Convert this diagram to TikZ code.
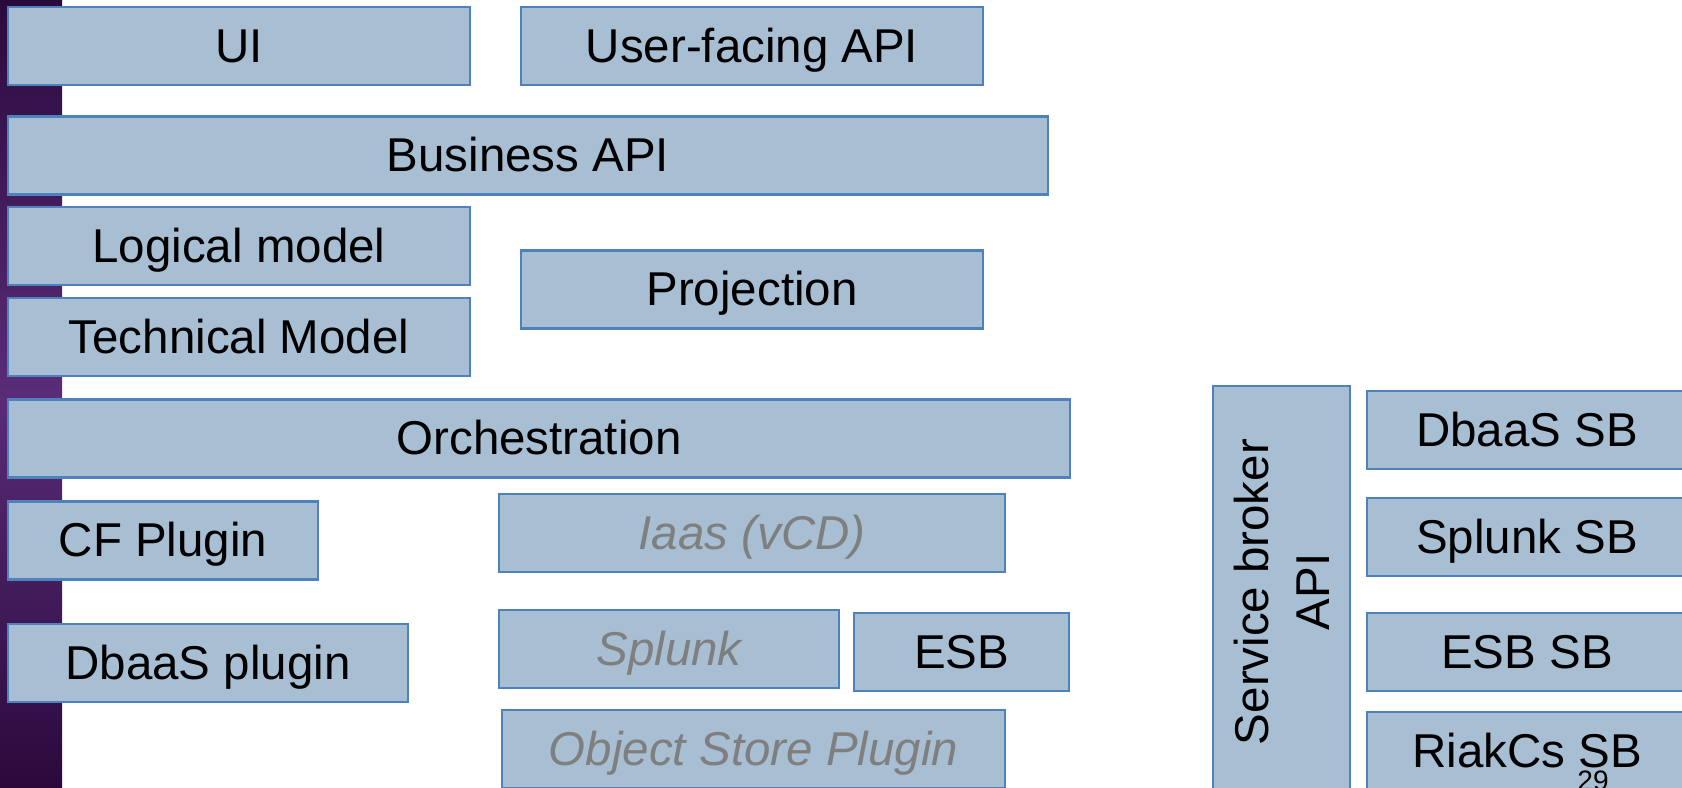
\documentclass[tikz,border=0pt]{standalone}
\usepackage{fontspec}
\setmainfont{Liberation Sans}
\definecolor{boxfill}{HTML}{A7BED3}
\definecolor{boxline}{HTML}{4F81BD}
\definecolor{fadetext}{HTML}{7F7F7F}
\definecolor{plumdark}{HTML}{2A0A3C}
\definecolor{plumlight}{HTML}{5A2C78}
\begin{document}
\begin{tikzpicture}[x=0.01cm, y=-0.01cm,
	box/.style={draw=boxline, line width=0.6pt, fill=boxfill, inner sep=0pt, minimum height=0.78cm, text height=12.2pt, text depth=2.9pt, font=\fontsize{13.5}{17.3}\selectfont},
	faded/.style={box, text=fadetext, font=\fontsize{13.5}{17.3}\selectfont\itshape}]
		\useasboundingbox (0,0) rectangle (1682,787);
		\clip (0,0) rectangle (1682,787);
		% purple strip on the left
		\shade[top color=plumdark, bottom color=plumdark, middle color=plumlight] (0,0) rectangle (62,787);
		\node[box, minimum width=4.61cm] (ui) at (239,46) {UI};
		\node[box, minimum width=4.62cm] (uapi) at (752,46) {User-facing API};
		\node[box, minimum width=10.39cm] (bapi) at (528,155.5) {Business API};
		\node[box, minimum width=4.61cm] (logic) at (239,246) {Logical model};
		\node[box, minimum width=4.61cm] (tech) at (239,337) {Technical Model};
		\node[box, minimum width=4.62cm] (proj) at (752,289.5) {Projection};
		\node[box, minimum width=10.61cm] (orch) at (539,438.5) {Orchestration};
		\node[box, minimum width=3.09cm] (cf) at (163,540.5) {CF Plugin};
		\node[faded, minimum width=5.06cm] (iaas) at (752,533) {Iaas (vCD)};
		\node[box, minimum width=4cm] (dbaas) at (208,663) {DbaaS plugin};
		\node[faded, minimum width=3.4cm] (splunk) at (669,649) {Splunk};
		\node[box, minimum width=2.15cm] (esb) at (961.5,652) {ESB};
		\node[faded, minimum width=5.03cm] (objstore) at (753.5,749) {Object Store Plugin};
		% service brokers
		\node[box, rotate=90, minimum width=4.12cm, minimum height=1.37cm, text height={}, text depth={}, align=center] (sbapi) at (1281.5,592) {Service broker\\API};
		\node[box, minimum width=3.2cm] (dbsb) at (1527,430) {DbaaS SB};
		\node[box, minimum width=3.2cm] (splsb) at (1527,537) {Splunk SB};
		\node[box, minimum width=3.2cm] (esbsb) at (1527,652) {ESB SB};
		\node[box, minimum width=3.2cm] (riaksb) at (1527,751) {RiakCs SB};
		\node[anchor=north, inner sep=0pt, font=\fontsize{8}{9}\selectfont] (pagenum) at (1593,770) {29};
	\end{tikzpicture}
\end{document}
